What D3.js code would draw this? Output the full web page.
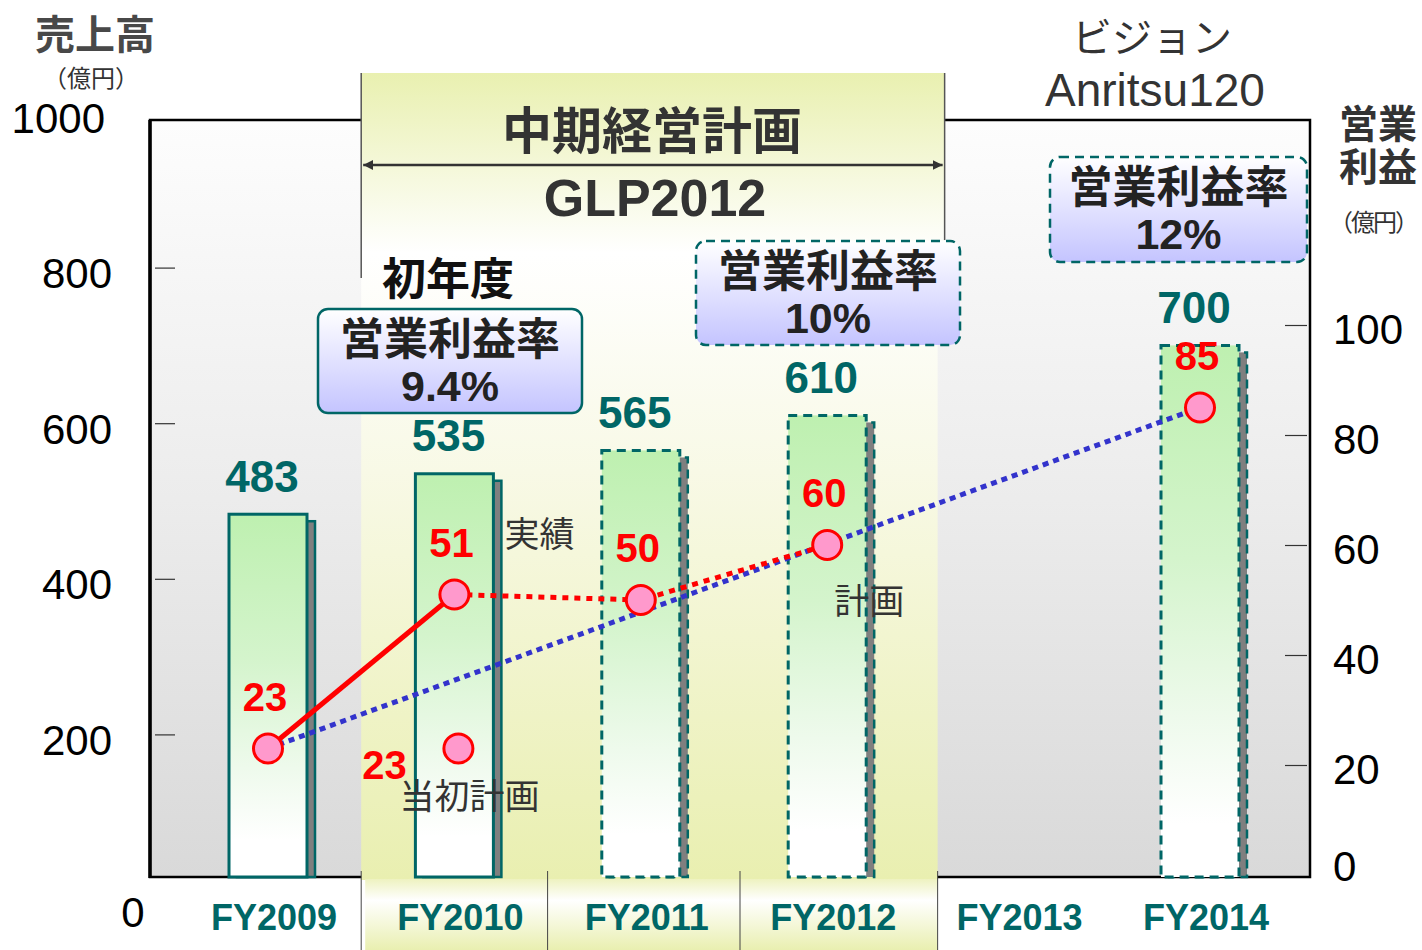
<!DOCTYPE html>
<html>
<head>
<meta charset="utf-8">
<script src="https://cdnjs.cloudflare.com/ajax/libs/d3/7.8.5/d3.min.js"></script>
<style>
body { margin: 0; background: #fff; }
svg { display: block; }
.jp { font-family: "Noto Sans CJK JP", sans-serif; }
.num { font-family: "Liberation Sans", Arial, sans-serif; }
.axis path { display: none; }
.axis line { stroke: #333; stroke-width: 1.2px; }
</style>
</head>
<body>
<svg></svg>
<script>
// data
var years = ["FY2009", "FY2010", "FY2011", "FY2012", "FY2013", "FY2014"];
var salesYears = ["FY2009", "FY2010", "FY2011", "FY2012", "FY2014"];
var sales = [483, 535, 565, 610, 700];
var salesIsPlan = [false, false, true, true, true];
var profitYears = ["FY2009", "FY2010", "FY2011", "FY2012", "FY2014"];
var profit = [23, 51, 50, 60, 85];
var firstPlanYear = "FY2010";
var firstPlanProfit = 23;
var planStart = "FY2010", planEnd = "FY2012";
var leftTicks = [0, 200, 400, 600, 800, 1000];
var rightTicks = [0, 20, 40, 60, 80, 100];
var marginRates = ["9.4%", "10%", "12%"];

var width = 1422, height = 950;
var svg = d3.select('svg').attr('width', width).attr('height', height);
var plot = { left: 150, right: 1310, top: 120, bottom: 877 };

var x = d3.scalePoint().domain(years).range([268, 1200]);
var step = x.step();
var yL = d3.scaleLinear().domain([0, 1000]).range([890, 112]);
var yR = d3.scaleLinear().domain([0, 100]).range([875, 325]);

var defs = svg.append('defs');
var grad = function(id, stops) {
    var g = defs.append('linearGradient').attr('id', id)
        .attr('x1', 0).attr('y1', 0).attr('x2', 0).attr('y2', 1);
    stops.forEach(function(s) {
        g.append('stop').attr('offset', s[0]).attr('stop-color', s[1]);
    });
};
grad('bgGrad', [[0, '#fdfdfd'], [0.5, '#ececec'], [1, '#d9d9d9']]);
grad('headGrad', [[0, '#e9f0b0'], [1, '#ffffff']]);
grad('lowGrad', [[0, '#ffffff'], [0.35, '#f8f9e6'], [1, '#e9efb0']]);
grad('bottomGrad', [[0, '#eef2c0'], [0.3, '#ffffff'], [1, '#e9efb0']]);
grad('barGrad', [[0, '#bef0b0'], [0.4, '#d4f4cc'], [0.7, '#eefaec'], [0.9, '#ffffff'], [1, '#ffffff']]);
grad('boxGrad', [[0, '#ffffff'], [1, '#c4c4ff']]);

defs.append('marker').attr('id', 'arrowhead')
    .attr('viewBox', '0 0 10 10').attr('refX', 10).attr('refY', 5)
    .attr('markerWidth', 10).attr('markerHeight', 10)
    .attr('markerUnits', 'userSpaceOnUse')
    .attr('orient', 'auto-start-reverse')
    .append('path').attr('d', 'M0,0 L10,5 L0,10 Z').attr('fill', '#333');

var text = function(t, cx, cy, size, cls, opts) {
    opts = opts || {};
    var el = svg.append('text')
        .attr('class', cls)
        .attr('x', cx).attr('y', cy)
        .attr('dominant-baseline', 'central')
        .attr('text-anchor', opts.anchor || 'middle')
        .attr('font-size', size)
        .attr('font-weight', opts.bold ? 'bold' : 'normal')
        .attr('fill', opts.color || '#333')
        .text(t);
    if (opts.len) el.attr('textLength', opts.len).attr('lengthAdjust', 'spacing');
    return el;
};

// two lines in one text element
var text2 = function(lines, cx, cy, gap, opts) {
    var el = svg.append('text')
        .attr('x', cx).attr('y', cy)
        .attr('text-anchor', 'middle')
        .attr('font-weight', 'bold')
        .attr('fill', opts.color || '#333');
    lines.forEach(function(l, i) {
        el.append('tspan')
            .attr('class', l.cls)
            .attr('x', cx)
            .attr('dy', i === 0 ? 0 : gap)
            .attr('font-size', l.size)
            .text(l.t);
    });
    return el;
};

// backgrounds
var planL = x(planStart) - step / 2;
var planR = x(planEnd) + step * 0.63;

svg.append('rect')
    .attr('x', plot.left).attr('y', plot.top)
    .attr('width', plot.right - plot.left).attr('height', plot.bottom - plot.top)
    .attr('fill', 'url(#bgGrad)')
    .attr('stroke', '#000').attr('stroke-width', 2.5);
svg.append('line')
    .attr('x1', plot.left).attr('x2', plot.left)
    .attr('y1', plot.top).attr('y2', plot.bottom + 1)
    .attr('stroke', '#000').attr('stroke-width', 3.5);

svg.append('rect')
    .attr('x', planL).attr('y', 73)
    .attr('width', planR - planL).attr('height', 180)
    .attr('fill', 'url(#headGrad)');
svg.append('rect')
    .attr('x', planL).attr('y', 252)
    .attr('width', planR - planL - 7).attr('height', plot.bottom + 3 - 252)
    .attr('fill', 'url(#lowGrad)');
svg.append('rect')
    .attr('x', planL + 4).attr('y', plot.bottom + 2)
    .attr('width', planR - planL - 11).attr('height', height - plot.bottom - 2)
    .attr('fill', 'url(#bottomGrad)');

svg.append('line')
    .attr('x1', planL).attr('x2', planL).attr('y1', 73).attr('y2', 278)
    .attr('stroke', '#555').attr('stroke-width', 1.5);
svg.append('line')
    .attr('x1', planR).attr('x2', planR).attr('y1', 73).attr('y2', 240)
    .attr('stroke', '#555').attr('stroke-width', 1.5);

// separators under the plan years
var seps = [planL, x("FY2010") + step / 2, x("FY2011") + step / 2 + 6, planR - 7];
svg.selectAll('.sep').data(seps).enter().append('line')
    .attr('class', 'sep')
    .attr('x1', function(d) { return d; }).attr('x2', function(d) { return d; })
    .attr('y1', plot.bottom - 6).attr('y2', height)
    .attr('stroke', '#444').attr('stroke-width', 1);

// arrow
svg.append('line')
    .attr('x1', planL + 2).attr('x2', planR - 2)
    .attr('y1', 165).attr('y2', 165)
    .attr('stroke', '#333').attr('stroke-width', 2.5)
    .attr('marker-start', 'url(#arrowhead)')
    .attr('marker-end', 'url(#arrowhead)');

// tick marks
svg.append('g').attr('class', 'axis')
    .attr('transform', 'translate(' + (plot.left + 5) + ',0)')
    .call(d3.axisRight(yL).tickValues([200, 400, 600, 800]).tickSize(20).tickFormat(''));
svg.append('g').attr('class', 'axis')
    .attr('transform', 'translate(' + (plot.right - 3) + ',0)')
    .call(d3.axisLeft(yR).tickValues([20, 40, 60, 80, 100]).tickSize(22).tickFormat(''));

// tick labels
svg.selectAll('.lt').data(leftTicks).enter().append('text')
    .attr('class', 'lt num')
    .attr('x', function(d) { return d === 0 ? 133 : (d === 1000 ? 105 : 112); })
    .attr('y', function(d) { return d === 0 ? yL(0) + 22 : yL(d) + 6; })
    .attr('text-anchor', function(d) { return d === 0 ? 'middle' : 'end'; })
    .attr('dominant-baseline', 'central')
    .attr('font-size', 42).attr('fill', '#000')
    .text(function(d) { return d; });
svg.selectAll('.rt').data(rightTicks).enter().append('text')
    .attr('class', 'rt num')
    .attr('x', 1333)
    .attr('y', function(d) { return d === 0 ? yR(0) - 9 : yR(d) + 4; })
    .attr('dominant-baseline', 'central')
    .attr('font-size', 42).attr('fill', '#000')
    .text(function(d) { return d; });

// x labels
svg.selectAll('.xl').data(years).enter().append('text')
    .attr('class', 'xl num')
    .attr('x', function(d) { return x(d) + 6; })
    .attr('y', 917)
    .attr('text-anchor', 'middle')
    .attr('dominant-baseline', 'central')
    .attr('font-size', 36).attr('font-weight', 'bold')
    .attr('fill', '#006666')
    .text(function(d) { return d; });

// bars
var barW = 78;
var bars = salesYears.map(function(yr, i) { return { year: yr, v: sales[i], plan: salesIsPlan[i] }; });
var bar = svg.selectAll('.bar').data(bars).enter().append('g').attr('class', 'bar');
bar.append('rect')
    .attr('x', function(d) { return x(d.year) - barW / 2 + 8; })
    .attr('y', function(d) { return yL(d.v) + 7; })
    .attr('width', barW)
    .attr('height', function(d) { return plot.bottom - yL(d.v) - 7; })
    .attr('fill', '#7f7f7f')
    .attr('stroke', '#006666').attr('stroke-width', 2.5)
    .attr('stroke-dasharray', function(d) { return d.plan ? '9,6' : null; });
bar.append('rect')
    .attr('x', function(d) { return x(d.year) - barW / 2; })
    .attr('y', function(d) { return yL(d.v); })
    .attr('width', barW)
    .attr('height', function(d) { return plot.bottom - yL(d.v); })
    .attr('fill', 'url(#barGrad)')
    .attr('stroke', '#006666').attr('stroke-width', 3)
    .attr('stroke-dasharray', function(d) { return d.plan ? '9,6' : null; });
bar.append('text')
    .attr('class', 'num')
    .attr('x', function(d) { return x(d.year) - 6; })
    .attr('y', function(d) { return yL(d.v) - 38; })
    .attr('text-anchor', 'middle')
    .attr('dominant-baseline', 'central')
    .attr('font-size', 44).attr('font-weight', 'bold')
    .attr('fill', '#006666')
    .text(function(d) { return d.v; });

// profit lines
var pts = profitYears.map(function(yr, i) { return { year: yr, v: profit[i] }; });
var line = d3.line().x(function(d) { return x(d.year); }).y(function(d) { return yR(d.v); });

svg.append('path')
    .attr('d', line([pts[0], pts[pts.length - 1]]))
    .attr('fill', 'none').attr('stroke', '#3333cc')
    .attr('stroke-width', 5).attr('stroke-dasharray', '6,5');
svg.append('path')
    .attr('d', line(pts.slice(1, 4)))
    .attr('fill', 'none').attr('stroke', '#ff0000')
    .attr('stroke-width', 5).attr('stroke-dasharray', '6,6');
svg.append('path')
    .attr('d', line(pts.slice(0, 2)))
    .attr('fill', 'none').attr('stroke', '#ff0000')
    .attr('stroke-width', 5);

var allPts = pts.concat([{ year: firstPlanYear, v: firstPlanProfit, first: true }]);
svg.selectAll('.pt').data(allPts).enter().append('circle')
    .attr('class', 'pt')
    .attr('cx', function(d) { return x(d.year) + (d.first ? 4 : 0); })
    .attr('cy', function(d) { return yR(d.v); })
    .attr('r', 14.5)
    .attr('fill', '#ff99cc')
    .attr('stroke', '#ff0000').attr('stroke-width', 3);

svg.selectAll('.pl').data(allPts).enter().append('text')
    .attr('class', 'pl num')
    .attr('x', function(d) { return d.first ? x(d.year) - 70 : x(d.year) - 3; })
    .attr('y', function(d) { return d.first ? yR(d.v) + 16 : yR(d.v) - 52; })
    .attr('text-anchor', 'middle')
    .attr('dominant-baseline', 'central')
    .attr('font-size', 40).attr('font-weight', 'bold')
    .attr('fill', '#ff0000')
    .text(function(d) { return d.v; });

text('実績', x("FY2010") + 85, yR(51) - 63, 35, 'jp');
text('計画', x("FY2012") + 42, yR(60) + 53, 35, 'jp');
text('当初計画', x("FY2010") + 15, yR(firstPlanProfit) + 45, 35, 'jp');

// titles
text('売上高', 95, 32, 40, 'jp', { bold: true, color: '#484848' });
text('（億円）', 91, 76, 24, 'jp', { color: '#333', len: 96 });
text2([{ t: '営業', size: 39, cls: 'jp' }, { t: '利益', size: 39, cls: 'jp' }], 1378, 138, 43, { color: '#333' });
text('（億円）', 1374, 220, 24, 'jp', { len: 90 });
text('ビジョン', 1152, 35, 40, 'jp');
text('Anritsu120', 1155, 90, 46, 'num');
text('中期経営計画', 652, 127, 50, 'jp', { bold: true });
text('GLP2012', 655, 198, 52, 'num', { bold: true });
text('初年度', 448, 276, 44, 'jp', { bold: true, color: '#111' });

// margin boxes
var boxes = [
    { x: 318, y: 309, w: 264, h: 104, dash: false },
    { x: 696, y: 241, w: 264, h: 104, dash: true },
    { x: 1050, y: 157, w: 257, h: 105, dash: true }
];
boxes.forEach(function(b, i) {
    svg.append('rect')
        .attr('x', b.x).attr('y', b.y).attr('width', b.w).attr('height', b.h)
        .attr('rx', 10).attr('ry', 10)
        .attr('fill', 'url(#boxGrad)')
        .attr('stroke', '#006666').attr('stroke-width', 2.5)
        .attr('stroke-dasharray', b.dash ? '9,6' : null);
    text2([{ t: '営業利益率', size: 44, cls: 'jp' }, { t: marginRates[i], size: 43, cls: 'num' }],
        b.x + b.w / 2, b.y + 46, 46, { color: '#222' });
});
</script>
</body>
</html>
